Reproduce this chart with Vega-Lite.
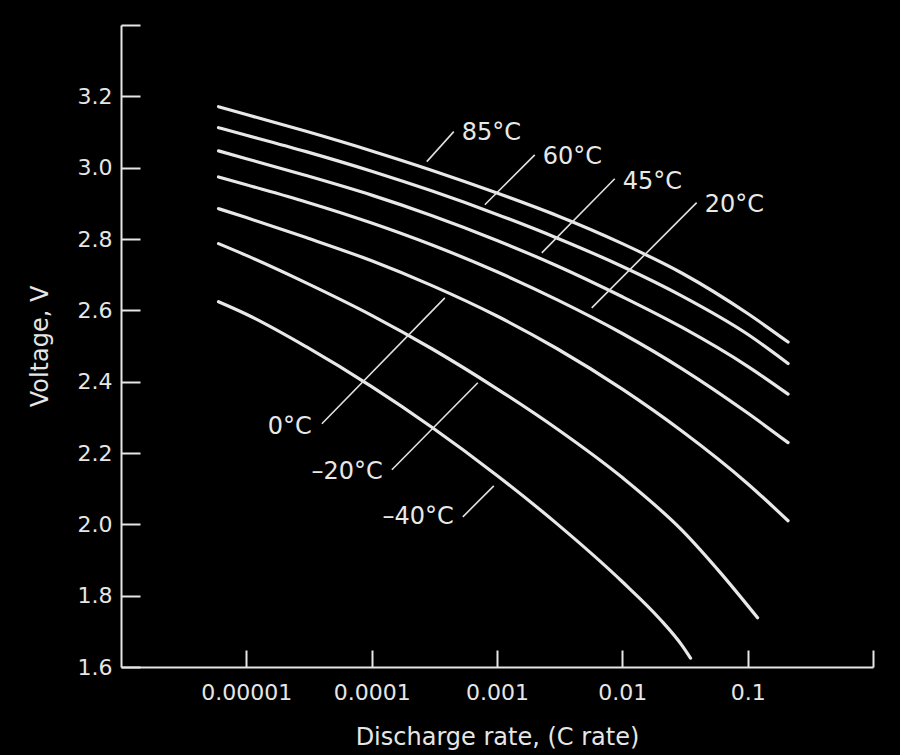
{
  "$schema": "https://vega.github.io/schema/vega-lite/v6.json",
  "width": 752,
  "height": 642,
  "autosize": {"type": "none"},
  "padding": {"left": 121, "top": 25, "right": 27, "bottom": 88},
  "background": "#000000",
  "config": {
    "view": {"stroke": null},
    "font": "DejaVu Sans",
    "axis": {
      "domainColor": "#e6e6e6",
      "domainWidth": 2,
      "tickColor": "#e6e6e6",
      "tickWidth": 2,
      "grid": false,
      "labelColor": "#e6e6e6",
      "titleColor": "#e6e6e6",
      "labelFont": "DejaVu Sans",
      "titleFont": "DejaVu Sans",
      "labelFontSize": 22,
      "titleFontSize": 24,
      "titleFontWeight": "normal"
    }
  },
  "datasets": {
    "curves": [
      {"t": "85°C", "rate": 0.000006, "v": 3.171}, {"t": "85°C", "rate": 0.00001, "v": 3.149}, {"t": "85°C", "rate": 0.00003, "v": 3.102}, {"t": "85°C", "rate": 0.0001, "v": 3.047}, {"t": "85°C", "rate": 0.0003, "v": 2.993}, {"t": "85°C", "rate": 0.001, "v": 2.929}, {"t": "85°C", "rate": 0.003, "v": 2.866}, {"t": "85°C", "rate": 0.01, "v": 2.787}, {"t": "85°C", "rate": 0.03, "v": 2.704}, {"t": "85°C", "rate": 0.1, "v": 2.591}, {"t": "85°C", "rate": 0.21, "v": 2.511},
      {"t": "60°C", "rate": 0.000006, "v": 3.112}, {"t": "60°C", "rate": 0.00001, "v": 3.091}, {"t": "60°C", "rate": 0.00003, "v": 3.045}, {"t": "60°C", "rate": 0.0001, "v": 2.990}, {"t": "60°C", "rate": 0.0003, "v": 2.935}, {"t": "60°C", "rate": 0.001, "v": 2.869}, {"t": "60°C", "rate": 0.003, "v": 2.803}, {"t": "60°C", "rate": 0.01, "v": 2.723}, {"t": "60°C", "rate": 0.03, "v": 2.640}, {"t": "60°C", "rate": 0.1, "v": 2.533}, {"t": "60°C", "rate": 0.21, "v": 2.451},
      {"t": "45°C", "rate": 0.000006, "v": 3.047}, {"t": "45°C", "rate": 0.00001, "v": 3.025}, {"t": "45°C", "rate": 0.00003, "v": 2.978}, {"t": "45°C", "rate": 0.0001, "v": 2.923}, {"t": "45°C", "rate": 0.0003, "v": 2.866}, {"t": "45°C", "rate": 0.001, "v": 2.796}, {"t": "45°C", "rate": 0.003, "v": 2.725}, {"t": "45°C", "rate": 0.01, "v": 2.638}, {"t": "45°C", "rate": 0.03, "v": 2.552}, {"t": "45°C", "rate": 0.1, "v": 2.443}, {"t": "45°C", "rate": 0.21, "v": 2.365},
      {"t": "20°C", "rate": 0.000006, "v": 2.974}, {"t": "20°C", "rate": 0.00001, "v": 2.952}, {"t": "20°C", "rate": 0.00003, "v": 2.904}, {"t": "20°C", "rate": 0.0001, "v": 2.845}, {"t": "20°C", "rate": 0.0003, "v": 2.784}, {"t": "20°C", "rate": 0.001, "v": 2.708}, {"t": "20°C", "rate": 0.003, "v": 2.630}, {"t": "20°C", "rate": 0.01, "v": 2.535}, {"t": "20°C", "rate": 0.03, "v": 2.436}, {"t": "20°C", "rate": 0.1, "v": 2.312}, {"t": "20°C", "rate": 0.21, "v": 2.229},
      {"t": "0°C", "rate": 0.000006, "v": 2.885}, {"t": "0°C", "rate": 0.00001, "v": 2.860}, {"t": "0°C", "rate": 0.00003, "v": 2.804}, {"t": "0°C", "rate": 0.0001, "v": 2.739}, {"t": "0°C", "rate": 0.0003, "v": 2.670}, {"t": "0°C", "rate": 0.001, "v": 2.584}, {"t": "0°C", "rate": 0.003, "v": 2.493}, {"t": "0°C", "rate": 0.01, "v": 2.379}, {"t": "0°C", "rate": 0.03, "v": 2.261}, {"t": "0°C", "rate": 0.1, "v": 2.114}, {"t": "0°C", "rate": 0.21, "v": 2.010},
      {"t": "–20°C", "rate": 0.000006, "v": 2.787}, {"t": "–20°C", "rate": 0.00001, "v": 2.754}, {"t": "–20°C", "rate": 0.00003, "v": 2.677}, {"t": "–20°C", "rate": 0.0001, "v": 2.586}, {"t": "–20°C", "rate": 0.0003, "v": 2.493}, {"t": "–20°C", "rate": 0.001, "v": 2.380}, {"t": "–20°C", "rate": 0.003, "v": 2.268}, {"t": "–20°C", "rate": 0.01, "v": 2.131}, {"t": "–20°C", "rate": 0.03, "v": 1.983}, {"t": "–20°C", "rate": 0.06, "v": 1.866}, {"t": "–20°C", "rate": 0.12, "v": 1.738},
      {"t": "–40°C", "rate": 0.000006, "v": 2.624}, {"t": "–40°C", "rate": 0.00001, "v": 2.589}, {"t": "–40°C", "rate": 0.00003, "v": 2.498}, {"t": "–40°C", "rate": 0.0001, "v": 2.386}, {"t": "–40°C", "rate": 0.0003, "v": 2.273}, {"t": "–40°C", "rate": 0.001, "v": 2.137}, {"t": "–40°C", "rate": 0.003, "v": 2.002}, {"t": "–40°C", "rate": 0.01, "v": 1.839}, {"t": "–40°C", "rate": 0.02, "v": 1.734}, {"t": "–40°C", "rate": 0.03, "v": 1.660}, {"t": "–40°C", "rate": 0.035, "v": 1.625}
    ],
    "leaders": [
      {"t": "85°C", "r1": 0.0002754, "v1": 3.017, "r2": 0.000452, "v2": 3.101},
      {"t": "60°C", "r1": 0.000799, "v1": 2.896, "r2": 0.002001, "v2": 3.036},
      {"t": "45°C", "r1": 0.002277, "v1": 2.761, "r2": 0.0087, "v2": 2.969},
      {"t": "20°C", "r1": 0.0057, "v1": 2.607, "r2": 0.0392, "v2": 2.902},
      {"t": "0°C", "r1": 0.00004006, "v1": 2.282, "r2": 0.0003835, "v2": 2.635},
      {"t": "–20°C", "r1": 0.0001449, "v1": 2.153, "r2": 0.000703, "v2": 2.397},
      {"t": "–40°C", "r1": 0.000534, "v1": 2.021, "r2": 0.000943, "v2": 2.108}
    ],
    "labelsLeft": [
      {"t": "85°C", "rate": 0.000524, "v": 3.098},
      {"t": "60°C", "rate": 0.002319, "v": 3.031},
      {"t": "45°C", "rate": 0.01007, "v": 2.960},
      {"t": "20°C", "rate": 0.0454, "v": 2.896}
    ],
    "labelsRight": [
      {"t": "0°C", "rate": 0.00003334, "v": 2.273},
      {"t": "–20°C", "rate": 0.0001228, "v": 2.147},
      {"t": "–40°C", "rate": 0.000452, "v": 2.021}
    ]
  },
  "layer": [
    {
      "data": {"name": "curves"},
      "mark": {"type": "line", "color": "#e8e8e8", "strokeWidth": 3.2, "interpolate": "monotone", "strokeCap": "round"},
      "encoding": {
        "x": {
          "field": "rate", "type": "quantitative",
          "scale": {"type": "log", "domain": [0.000001, 1], "nice": false},
          "axis": {
            "title": "Discharge rate, (C rate)",
            "values": [0.00001, 0.0001, 0.001, 0.01, 0.1, 1],
            "labelExpr": "datum.value >= 0.5 ? '' : format(datum.value, '.5~f')",
            "tickSize": -17,
            "labelPadding": 32,
            "titlePadding": 22,
            "labelFlush": false,
            "labelOverlap": false
          }
        },
        "y": {
          "field": "v", "type": "quantitative",
          "scale": {"domain": [1.6, 3.4], "nice": false, "zero": false},
          "axis": {
            "title": "Voltage, V",
            "values": [1.6, 1.8, 2.0, 2.2, 2.4, 2.6, 2.8, 3.0, 3.2, 3.4],
            "labelExpr": "datum.value > 3.3 ? '' : format(datum.value, '.1f')",
            "tickSize": -19,
            "labelPadding": 28,
            "titlePadding": 25,
            "labelFlush": false,
            "labelOverlap": false
          }
        },
        "detail": {"field": "t"}
      }
    },
    {
      "data": {"name": "leaders"},
      "mark": {"type": "rule", "color": "#e0e0e0", "strokeWidth": 1.6},
      "encoding": {
        "x": {"field": "r1", "type": "quantitative"},
        "x2": {"field": "r2"},
        "y": {"field": "v1", "type": "quantitative"},
        "y2": {"field": "v2"}
      }
    },
    {
      "data": {"name": "labelsLeft"},
      "mark": {"type": "text", "color": "#e8e8e8", "fontSize": 24, "align": "left", "baseline": "middle", "font": "DejaVu Sans"},
      "encoding": {
        "x": {"field": "rate", "type": "quantitative"},
        "y": {"field": "v", "type": "quantitative"},
        "text": {"field": "t"}
      }
    },
    {
      "data": {"name": "labelsRight"},
      "mark": {"type": "text", "color": "#e8e8e8", "fontSize": 24, "align": "right", "baseline": "middle", "font": "DejaVu Sans"},
      "encoding": {
        "x": {"field": "rate", "type": "quantitative"},
        "y": {"field": "v", "type": "quantitative"},
        "text": {"field": "t"}
      }
    }
  ]
}
